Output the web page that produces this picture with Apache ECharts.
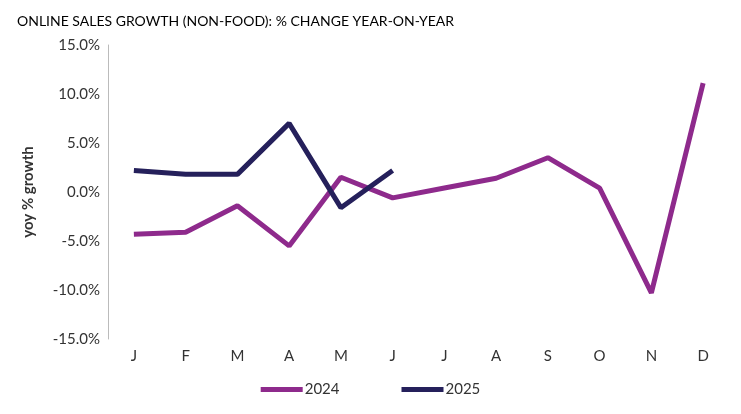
<!DOCTYPE html><html><head><meta charset="utf-8">
<script src="https://cdn.jsdelivr.net/npm/echarts@6/dist/echarts.min.js"></script>
<style>html,body{margin:0;padding:0;background:#fff}#c{width:741px;height:414px}</style></head>
<body><div id="c"></div><script>
const months=['J','F','M','A','M','J','J','A','S','O','N','D'];
const s2024=[-4.3,-4.1,-1.4,-5.5,1.5,-0.6,0.4,1.4,3.5,0.4,-10.3,11.1];
const s2025=[2.2,1.8,1.8,7.0,-1.6,2.2];
const c=echarts.init(document.getElementById('c'));
c.setOption({
 animation:false,
 textStyle:{fontFamily:'Lato'},
 title:{text:'ONLINE SALES GROWTH (NON-FOOD): % CHANGE YEAR-ON-YEAR',left:12,top:9,textStyle:{fontFamily:'Lato',fontSize:14,fontWeight:'normal',color:'#000'}},
 legend:{bottom:12,left:'center',itemWidth:42,itemGap:62,icon:'rect',itemHeight:5,textStyle:{fontSize:15,color:'#333',padding:[0,0,0,-3]},data:['2024','2025']},
 grid:{left:108,right:12,top:45,bottom:75},
 xAxis:{type:'category',data:months,boundaryGap:true,axisLine:{show:true,onZero:true,lineStyle:{opacity:0}},axisTick:{show:false},axisLabel:{fontSize:15,color:'#333',margin:10}},
 yAxis:{type:'value',min:-15,max:15,interval:5,name:'yoy % growth',nameLocation:'middle',nameGap:72,nameTextStyle:{fontSize:15,fontWeight:'bold',color:'#333'},
  axisLine:{show:true,lineStyle:{color:'#bbb'}},splitLine:{show:false},axisLabel:{fontSize:15,color:'#333',formatter:v=>v.toFixed(1)+'%'}},
 series:[
  {name:'2024',type:'line',data:s2024,symbol:'none',lineStyle:{width:5,color:'#8E2A8C'},itemStyle:{color:'#8E2A8C'}},
  {name:'2025',type:'line',data:s2025,symbol:'none',lineStyle:{width:5,color:'#25205B'},itemStyle:{color:'#25205B'}}
 ]
});
</script></body></html>
